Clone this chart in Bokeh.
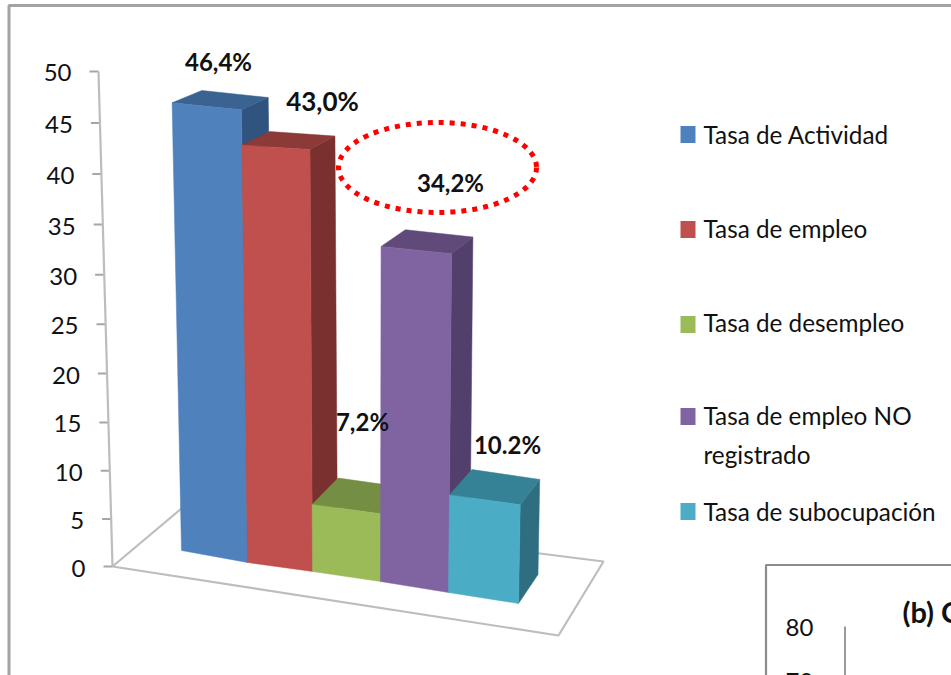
from bokeh.plotting import figure
from bokeh.embed import file_html
from bokeh.resources import INLINE
from bokeh.core.properties import value

# ---- data ----
categories = ["Tasa de Actividad", "Tasa de empleo", "Tasa de desempleo",
              "Tasa de empleo NO\nregistrado", "Tasa de subocupación"]
rates = [46.4, 43.0, 7.2, 34.2, 10.2]
rate_labels = ["46,4%", "43,0%", "7,2%", "34,2%", "10.2%"]
tick_values = [0, 5, 10, 15, 20, 25, 30, 35, 40, 45, 50]
tick_labels = ["0", "5", "10", "15", "20", "25", "30", "35", "40", "45", "50"]
front_colors = ["#4F81BD", "#C0504D", "#9BBB59", "#8064A2", "#4BACC6"]
top_colors = ["#3A6391", "#8B3A38", "#748E43", "#5F4A7A", "#358195"]
side_colors = ["#30537F", "#7A302E", "#66803A", "#533F6C", "#2E6E80"]
second_chart_ticks = ["80", "70"]
second_chart_title = "(b) C"

# ---- layout: the scale is pixels across, chart units up ----
W, H = 951, 675
Y0, PER_UNIT = 566.0, 9.88
FONT = value("Lato")


def yv(py):
    return (Y0 - py) / PER_UNIT


def axis_y(v):
    # the value axis recedes slightly, so its ticks are not quite evenly spaced
    return Y0 - 9.483 * v / (1 - 0.000843 * v)


# Bar feet along the floor (x, y on the page)
edge_x = [181, 247, 312, 380, 448, 518]
edge_y = [550, 562, 571, 581, 592, 603]


def front_point(i, v):
    x = edge_x[i] + v * (edge_x[i] - 365) * 0.0011
    k = 9.0 + (edge_x[i] - 181) * 0.0016 + 0.014 * v
    return x, edge_y[i] - v * k


p = figure(width=W, height=H, output_backend="svg", toolbar_location=None,
           x_range=(0, W), y_range=(yv(H), yv(0)), min_border=0,
           margin=(0, 0, 0, 0), background_fill_color="white")
p.axis.visible = False
p.grid.visible = False
p.outline_line_color = None

# Outer and inner picture frames
p.line([8.5, 8.5, W + 5], [yv(H + 5), yv(5), yv(5)], line_color="#A3A3A3", line_width=3)

# Floor
floor_x = [112, 558, 603, 181, 112]
floor_y = [566, 635, 561, 508, 566]
p.line(floor_x, [yv(v) for v in floor_y], line_color="#BDBDBD", line_width=2.2)

# Sloped value axis
for tv, tl in zip(tick_values, tick_labels):
    ax = 112 - tv * 0.28
    ay = yv(axis_y(tv))
    p.segment([ax - 9], [ay], [ax], [ay], line_color="#A6A6A6", line_width=2)
    p.text([ax - 27], [yv(axis_y(tv) + 1.5)], text=[tl], text_align="right", text_baseline="middle",
           text_font=FONT, text_font_size="24px", text_color="#111111")
p.line([112 - 50 * 0.28, 112], [yv(axis_y(50)), yv(axis_y(0))], line_color="#BDBDBD", line_width=2.2)

# Bars, painted from back-left to front-right
for i, v in enumerate(rates):
    lx, ly = front_point(i, v)
    rx, ry = front_point(i + 1, v)
    blx, bly = edge_x[i], edge_y[i]
    brx, bry = edge_x[i + 1], edge_y[i + 1]
    dx = 33 - 0.026 * rx
    dy = 29 - 0.36 * v
    # side
    p.patch([rx, rx + dx, brx + dx, brx],
            [yv(ry), yv(ry - dy), yv(bry - 29), yv(bry)],
            fill_color=side_colors[i], line_color=side_colors[i], line_width=0.5)
    # top
    p.patch([lx, lx + dx + 3, rx + dx, rx],
            [yv(ly), yv(ly - dy), yv(ry - dy), yv(ry)],
            fill_color=top_colors[i], line_color=top_colors[i], line_width=0.5)
    # front
    p.patch([lx, rx, brx, blx],
            [yv(ly), yv(ry), yv(bry), yv(bly)],
            fill_color=front_colors[i], line_color=front_colors[i], line_width=0.5)

# Value labels
label_pos = [(218, 61, 24), (322, 100, 26), (362, 421, 24), (450, 182, 24), (507, 444, 24)]
for lab, (lx, ly, size) in zip(rate_labels, label_pos):
    p.text([lx], [yv(ly)], text=[lab], text_align="center", text_baseline="middle",
           text_font=FONT, text_font_size=f"{size}px", text_font_style="bold",
           text_color="#111111")

# Dotted highlight
p.ellipse([437], [yv(167)], width=198, height=90 / PER_UNIT, fill_color=None,
          line_color="#FF0000", line_width=5, line_dash="5 6")

# Legend
legend_rows = [[134], [228], [322], [415, 454], [511]]
legend_swatch = [134, 229, 324, 416, 511]
for i, name in enumerate(categories):
    p.quad(left=[680], right=[695], top=[yv(legend_swatch[i] - 8.5)],
           bottom=[yv(legend_swatch[i] + 8.5)], fill_color=front_colors[i], line_color=None)
    for line, py in zip(name.split("\n"), legend_rows[i]):
        p.text([703], [yv(py)], text=[line], text_align="left", text_baseline="middle",
               text_font=FONT, text_font_size="24.3px", text_color="#111111")

# The next picture, cut off by the page
p.patch([765, 765, W + 5, W + 5], [yv(H + 5), yv(564), yv(564), yv(H + 5)],
        fill_color="white", line_color=None)
p.line([765.5, 765.5, W + 5], [yv(H + 5), yv(564.5), yv(564.5)], line_color="#8C8C8C", line_width=2.2)
p.line([844.5, 844.5], [yv(626), yv(H + 5)], line_color="#9A9A9A", line_width=2)
for lab, py in zip(second_chart_ticks, [627, 681]):
    p.text([799], [yv(py)], text=[lab], text_align="center", text_baseline="middle",
           text_font=FONT, text_font_size="24px", text_color="#111111")
p.text([902], [yv(611)], text=[second_chart_title], text_align="left", text_baseline="middle",
       text_font=FONT, text_font_size="29px", text_font_style="bold", text_color="#111111")

open("out.html", "w").write(file_html(p, INLINE))
